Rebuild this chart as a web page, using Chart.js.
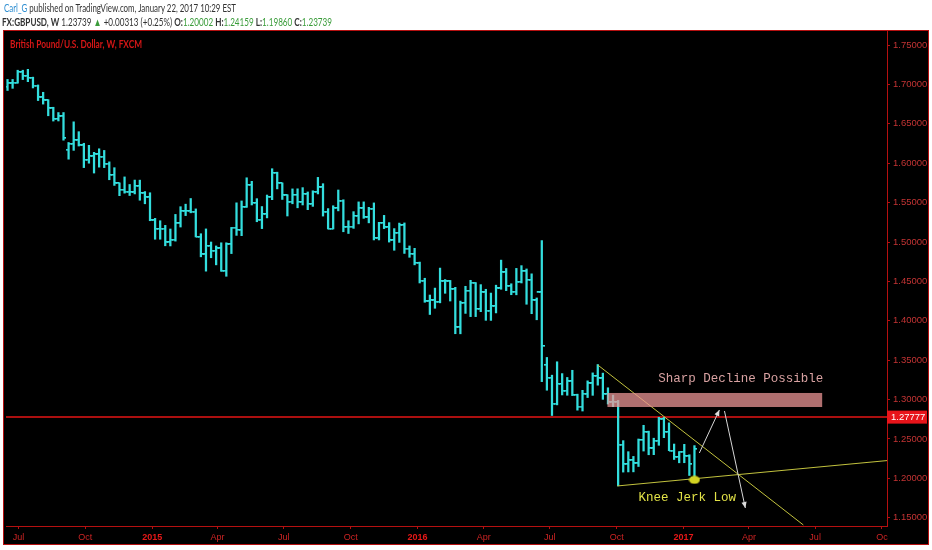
<!DOCTYPE html>
<html><head><meta charset="utf-8">
<script src="https://cdn.jsdelivr.net/npm/chart.js@4.4.1/dist/chart.umd.min.js"></script>
<style>
html,body{margin:0;padding:0;background:#fff;}
#wrap{position:relative;width:932px;height:550px;overflow:hidden;background:#fff;}
#cv{position:absolute;left:0;top:0;width:932px;height:550px;}
.hdr{position:absolute;white-space:nowrap;font-family:Lato,"Open Sans","Liberation Sans",sans-serif;font-size:11px;line-height:13px;color:#333;transform-origin:0 50%;z-index:2;}
#h1{top:1px;left:4px;}
#h2{top:15px;left:2px;}
.blue{color:#2f8fd2}
.g{color:#3a9c3a}
#ttl{position:absolute;left:10px;top:38px;font-family:Lato,"Open Sans","Liberation Sans",sans-serif;font-size:10.5px;line-height:12px;font-weight:bold;color:#d41616;z-index:2;white-space:nowrap;transform-origin:0 50%;}
</style></head>
<body>
<div id="wrap">
<canvas id="cv" width="932" height="550"></canvas>
<div class="hdr" id="h1"><span class="blue">Carl_G</span> published on TradingView.com, January 22, 2017 10:29 EST</div>
<div class="hdr" id="h2"><b>FX:GBPUSD, W</b> 1.23739 <span class="g">&#9650;</span> +0.00313 (+0.25%) <b>O:</b><span class="g">1.20002</span> <b>H:</b><span class="g">1.24159</span> <b>L:</b><span class="g">1.19860</span> <b>C:</b><span class="g">1.23739</span></div>
<div id="ttl">British Pound/U.S. Dollar, W, FXCM</div>
</div>
<script>
// ---- weekly OHLC, first bar = week of 16 Jun 2014, last = week of 16 Jan 2017 ----
const opens = [
1.6968,1.7012,1.7022,1.7157,1.7108,1.7083,1.6986,1.6834,1.6796,1.6696,1.6561,1.6595,1.6170,1.6246,1.6292,1.6225,1.6044,1.6087,1.6112,1.6083,
1.5995,1.5851,1.5745,1.5663,1.5640,1.5630,1.5710,1.5620,1.5567,1.5273,1.5166,1.5170,1.4996,1.5028,1.5236,1.5391,1.5394,1.5387,1.5065,1.4842,
1.4950,1.4890,1.4918,1.4633,1.4970,1.5183,1.5153,1.5443,1.5722,1.5495,1.5283,1.5353,1.5575,1.5877,1.5747,1.5592,1.5513,1.5598,1.5509,1.5610,
1.5482,1.5636,1.5693,1.5386,1.5170,1.5430,1.5526,1.5192,1.5195,1.5330,1.5428,1.5313,1.5423,1.5048,1.5243,1.5187,1.5021,1.5118,1.5213,1.4916,
1.4849,1.4735,1.4510,1.4245,1.4258,1.4242,1.4500,1.4500,1.4401,1.3918,1.4228,1.4380,1.4484,1.4150,1.4360,1.4130,1.4184,1.4410,1.4615,1.4440,
1.4370,1.4496,1.4627,1.4520,1.4259,1.4360,1.3440,1.3277,1.2950,1.3198,1.3113,1.3230,1.3060,1.2912,1.3075,1.3205,1.3300,1.3268,1.3070,1.2965,
1.2968,1.2430,1.2180,1.2230,1.2190,1.2487,1.2590,1.2380,1.2480,1.2750,1.2590,1.2353,1.2270,1.2340,1.2282,1.2000];
const highs = [
1.7063,1.7063,1.7180,1.7180,1.7191,1.7092,1.6993,1.6900,1.6806,1.6710,1.6643,1.6643,1.6263,1.6525,1.6400,1.6253,1.6227,1.6138,1.6183,1.6162,
1.6017,1.5943,1.5750,1.5826,1.5730,1.5786,1.5785,1.5640,1.5625,1.5300,1.5270,1.5211,1.5165,1.5350,1.5448,1.5480,1.5552,1.5420,1.5105,1.5166,
1.5000,1.4950,1.4990,1.4990,1.5185,1.5497,1.5521,1.5815,1.5770,1.5550,1.5450,1.5596,1.5930,1.5886,1.5750,1.5600,1.5674,1.5675,1.5690,1.5635,
1.5650,1.5820,1.5740,1.5424,1.5460,1.5660,1.5536,1.5270,1.5385,1.5509,1.5509,1.5440,1.5496,1.5250,1.5338,1.5246,1.5170,1.5240,1.5242,1.4950,
1.4920,1.4745,1.4540,1.4327,1.4415,1.4669,1.4523,1.4512,1.4425,1.4250,1.4438,1.4514,1.4485,1.4459,1.4400,1.4352,1.4452,1.4770,1.4664,1.4470,
1.4665,1.4700,1.4658,1.4596,1.4290,1.5018,1.3535,1.3310,1.3480,1.3330,1.3281,1.3372,1.3069,1.3118,1.3238,1.3339,1.3445,1.3336,1.3150,1.3057,
1.2990,1.2479,1.2339,1.2279,1.2500,1.2674,1.2600,1.2510,1.2775,1.2775,1.2705,1.2436,1.2340,1.2432,1.2300,1.2416];
const lows = [
1.6923,1.6950,1.7016,1.7061,1.7035,1.6955,1.6795,1.6750,1.6602,1.6535,1.6536,1.6292,1.6051,1.6163,1.6218,1.5944,1.6000,1.5875,1.5950,1.5944,
1.5790,1.5718,1.5588,1.5620,1.5590,1.5610,1.5530,1.5485,1.5270,1.5035,1.5035,1.4952,1.4950,1.5011,1.5190,1.5335,1.5370,1.5064,1.4812,1.4630,
1.4800,1.4710,1.4628,1.4565,1.4853,1.5084,1.5080,1.5440,1.5470,1.5257,1.5170,1.5306,1.5537,1.5674,1.5540,1.5330,1.5485,1.5434,1.5470,1.5410,
1.5452,1.5610,1.5329,1.5165,1.5165,1.5395,1.5130,1.5108,1.5173,1.5230,1.5300,1.5243,1.5026,1.5026,1.5170,1.4999,1.4895,1.4995,1.4855,1.4806,
1.4710,1.4480,1.4235,1.4080,1.4159,1.4228,1.4349,1.4251,1.3836,1.3835,1.4094,1.4053,1.4053,1.4116,1.4006,1.4005,1.4100,1.4400,1.4383,1.4331,
1.4330,1.4480,1.4210,1.4090,1.4013,1.3228,1.3119,1.2798,1.2933,1.3059,1.3055,1.3051,1.2866,1.2855,1.3026,1.3054,1.3183,1.3003,1.2944,1.2910,
1.1905,1.2080,1.2082,1.2083,1.2151,1.2347,1.2300,1.2301,1.2420,1.2517,1.2352,1.2240,1.2198,1.2199,1.2037,1.1986];
const closes = [
1.7012,1.7022,1.7157,1.7108,1.7083,1.6986,1.6834,1.6796,1.6696,1.6561,1.6595,1.6318,1.6246,1.6292,1.6225,1.6044,1.6087,1.6112,1.6083,1.5995,
1.5851,1.5745,1.5663,1.5640,1.5630,1.5710,1.5620,1.5567,1.5273,1.5166,1.5170,1.4996,1.5028,1.5236,1.5391,1.5394,1.5387,1.5065,1.4842,1.4950,
1.4890,1.4918,1.4633,1.4970,1.5183,1.5153,1.5443,1.5722,1.5495,1.5283,1.5353,1.5575,1.5877,1.5747,1.5592,1.5513,1.5598,1.5509,1.5610,1.5482,
1.5636,1.5693,1.5386,1.5170,1.5430,1.5526,1.5192,1.5195,1.5330,1.5428,1.5313,1.5423,1.5048,1.5243,1.5187,1.5021,1.5118,1.5213,1.4916,1.4849,
1.4735,1.4510,1.4245,1.4258,1.4242,1.4500,1.4500,1.4401,1.3918,1.4228,1.4380,1.4484,1.4150,1.4360,1.4130,1.4184,1.4410,1.4615,1.4440,1.4370,
1.4496,1.4627,1.4520,1.4259,1.4360,1.3679,1.3277,1.2950,1.3198,1.3113,1.3230,1.3060,1.2912,1.3075,1.3205,1.3300,1.3268,1.3070,1.2965,1.2968,
1.2430,1.2180,1.2230,1.2190,1.2487,1.2590,1.2380,1.2480,1.2750,1.2590,1.2353,1.2270,1.2340,1.2282,1.2180,1.2374];

// ---- axis ticks ----
const firstWeek = Date.UTC(2014,5,16);
const xTickLabels = ['Jul','Oct','2015','Apr','Jul','Oct','2016','Apr','Jul','Oct','2017','Apr','Jul','Oc'];
const xTickDates  = ['2014-07-01','2014-10-01','2015-01-01','2015-04-01','2015-07-01','2015-10-01','2016-01-01','2016-04-01','2016-07-01','2016-10-01','2017-01-01','2017-04-01','2017-07-01','2017-10-01'];
const yTicks = [1.15,1.20,1.25,1.30,1.35,1.40,1.45,1.50,1.55,1.60,1.65,1.70,1.75];

// ---- drawings (data coordinates: week index, price) ----
const levelPrice = 1.27777;
const descLine = [{x:116.0,y:1.3439},{x:156.4,y:1.1409}];
const ascLine  = [{x:119.84,y:1.1904},{x:172.84,y:1.2226}];
const arrowUp  = [{x:135.96,y:1.2322},{x:139.9,y:1.2868}];
const arrowDn  = [{x:140.9,y:1.2855},{x:145.0,y:1.1624}];
const zoneX = [117.9,160.1];
const zoneY = [1.2906,1.3084];
const lowMark = [{x:135,y:1.1982}];
const notes = [
  {x:127.9,y:1.3261,text:'Sharp Decline Possible',color:'#d9a2a2'},
  {x:124.0,y:1.1750,text:'Knee Jerk Low',color:'#e2e247'}
];

const BAR = '#33dede';
const RED = '#b51010';
const FONT = '"Liberation Sans","Noto Sans",Arial,sans-serif';

function tickImg(side){
  const c=document.createElement('canvas');c.width=6;c.height=2;
  const g=c.getContext('2d');g.fillStyle=BAR;
  g.fillRect(side<0?0:3,0,3,1.6);return c;
}
function ellipseImg(){
  const c=document.createElement('canvas');c.width=12;c.height=9;
  const g=c.getContext('2d');g.fillStyle='#d4d422';
  g.beginPath();g.ellipse(6,4.5,5.5,4,0,0,Math.PI*2);g.fill();return c;
}

const weekMs = 7*86400000;
const xTickVals = xTickDates.map(d=>{const p=d.split('-');return (Date.UTC(+p[0],+p[1]-1,+p[2])-firstWeek)/weekMs;});

const bgPlugin = {
  id:'bg',
  beforeDraw(chart){
    const c=chart.ctx;
    c.save();
    c.fillStyle='#ffffff';c.fillRect(0,0,chart.width,chart.height);
    c.fillStyle='#000000';c.fillRect(3,30,926,515);
    c.strokeStyle=RED;c.lineWidth=1;c.strokeRect(3.5,30.5,925,514);
    c.restore();
  },
  beforeDatasetsDraw(chart){
    const c=chart.ctx,a=chart.chartArea,y=chart.scales.y;
    const py=y.getPixelForValue(levelPrice);
    c.save();c.strokeStyle='#e41414';c.lineWidth=1.5;
    c.beginPath();c.moveTo(a.left,py);c.lineTo(a.right,py);c.stroke();c.restore();
  },
  afterDatasetsDraw(chart){
    const c=chart.ctx,x=chart.scales.x,y=chart.scales.y;
    c.save();
    const x0=x.getPixelForValue(zoneX[0]),x1=x.getPixelForValue(zoneX[1]);
    const y0=y.getPixelForValue(zoneY[1]),y1=y.getPixelForValue(zoneY[0]);
    c.fillStyle='rgba(236,150,150,0.74)';c.fillRect(x0,y0,x1-x0,y1-y0);
    c.fillStyle='#dcdcdc';
    [arrowUp,arrowDn].forEach(seg=>{
      const ax=x.getPixelForValue(seg[0].x),ay=y.getPixelForValue(seg[0].y);
      const bx=x.getPixelForValue(seg[1].x),by=y.getPixelForValue(seg[1].y);
      const ang=Math.atan2(by-ay,bx-ax),L=6,W=2.6;
      c.beginPath();c.moveTo(bx,by);
      c.lineTo(bx-L*Math.cos(ang)+W*Math.sin(ang),by-L*Math.sin(ang)-W*Math.cos(ang));
      c.lineTo(bx-L*Math.cos(ang)-W*Math.sin(ang),by-L*Math.sin(ang)+W*Math.cos(ang));
      c.closePath();c.fill();
    });
    c.font='12.5px "Liberation Mono","DejaVu Sans Mono",monospace';
    c.textBaseline='middle';c.textAlign='left';
    notes.forEach(n=>{c.fillStyle=n.color;c.fillText(n.text,x.getPixelForValue(n.x),y.getPixelForValue(n.y));});
    c.restore();
  },
  afterDraw(chart){
    const c=chart.ctx,y=chart.scales.y,a=chart.chartArea;
    const py=y.getPixelForValue(levelPrice);
    c.save();
    c.fillStyle='#e8141a';c.fillRect(a.right,py-6.5,40,13);
    c.fillStyle='#ffffff';c.font='9.5px '+FONT;c.textBaseline='middle';c.textAlign='left';
    c.fillText(levelPrice.toFixed(5),a.right+4,py+0.5);
    c.restore();
  }
};

Chart.defaults.font.family = FONT;

new Chart(document.getElementById('cv'),{
  type:'bar',
  data:{datasets:[
    {type:'scatter',data:lowMark,pointStyle:ellipseImg(),pointRadius:5,order:0},
    {type:'line',data:arrowUp,borderColor:'#d6d6d6',borderWidth:1,pointRadius:0,fill:false,order:1},
    {type:'line',data:arrowDn,borderColor:'#d6d6d6',borderWidth:1,pointRadius:0,fill:false,order:1},
    {type:'line',data:descLine,borderColor:'#c2c23e',borderWidth:1,pointRadius:0,fill:false,order:1},
    {type:'line',data:ascLine,borderColor:'#c2c23e',borderWidth:1,pointRadius:0,fill:false,order:1},
    {type:'scatter',data:opens.map((v,i)=>({x:i,y:v})),pointStyle:tickImg(-1),pointRadius:2,order:2},
    {type:'scatter',data:closes.map((v,i)=>({x:i,y:v})),pointStyle:tickImg(1),pointRadius:2,order:2},
    {type:'bar',data:lows.map((v,i)=>({x:i,y:[v,highs[i]]})),backgroundColor:BAR,borderWidth:0,barThickness:1.6,grouped:false,order:3}
  ]},
  options:{
    responsive:false,animation:false,
    layout:{padding:{left:4,right:3,top:31,bottom:5}},
    plugins:{legend:{display:false},tooltip:{enabled:false},title:{display:false}},
    scales:{
      x:{type:'linear',min:-0.3,max:172.84,offset:false,
        afterBuildTicks:s=>{s.ticks=xTickVals.map(v=>({value:v}));},
        afterFit:s=>{s.height=19;},
        ticks:{autoSkip:false,maxRotation:0,padding:3,
          callback:(v,i)=>xTickLabels[i],
          color:ctx=>/^\d{4}$/.test(xTickLabels[ctx.index])?'#e81818':'#cc2424',
          font:ctx=>({size:9,weight:/^\d{4}$/.test(xTickLabels[ctx.index])?'bold':'normal'})},
        grid:{display:true,drawOnChartArea:false,drawTicks:true,tickLength:3,color:RED,offset:false},
        border:{display:true,color:RED,width:1}
      },
      y:{type:'linear',position:'right',min:1.13959,max:1.76777,
        afterBuildTicks:s=>{s.ticks=yTicks.map(v=>({value:v}));},
        afterFit:s=>{s.width=42;},
        ticks:{padding:3,color:'#c43434',font:{size:9.5},callback:v=>v.toFixed(5)},
        grid:{display:true,drawOnChartArea:false,drawTicks:true,tickLength:3,color:RED},
        border:{display:true,color:RED,width:1}
      }
    }
  },
  plugins:[bgPlugin]
});

function fit(id,w){const el=document.getElementById(id);const cur=el.getBoundingClientRect().width;if(cur>0)el.style.transform='scaleX('+(w/cur)+')';}
fit('h1',232);fit('h2',330);fit('ttl',132);
</script>
</body></html>
